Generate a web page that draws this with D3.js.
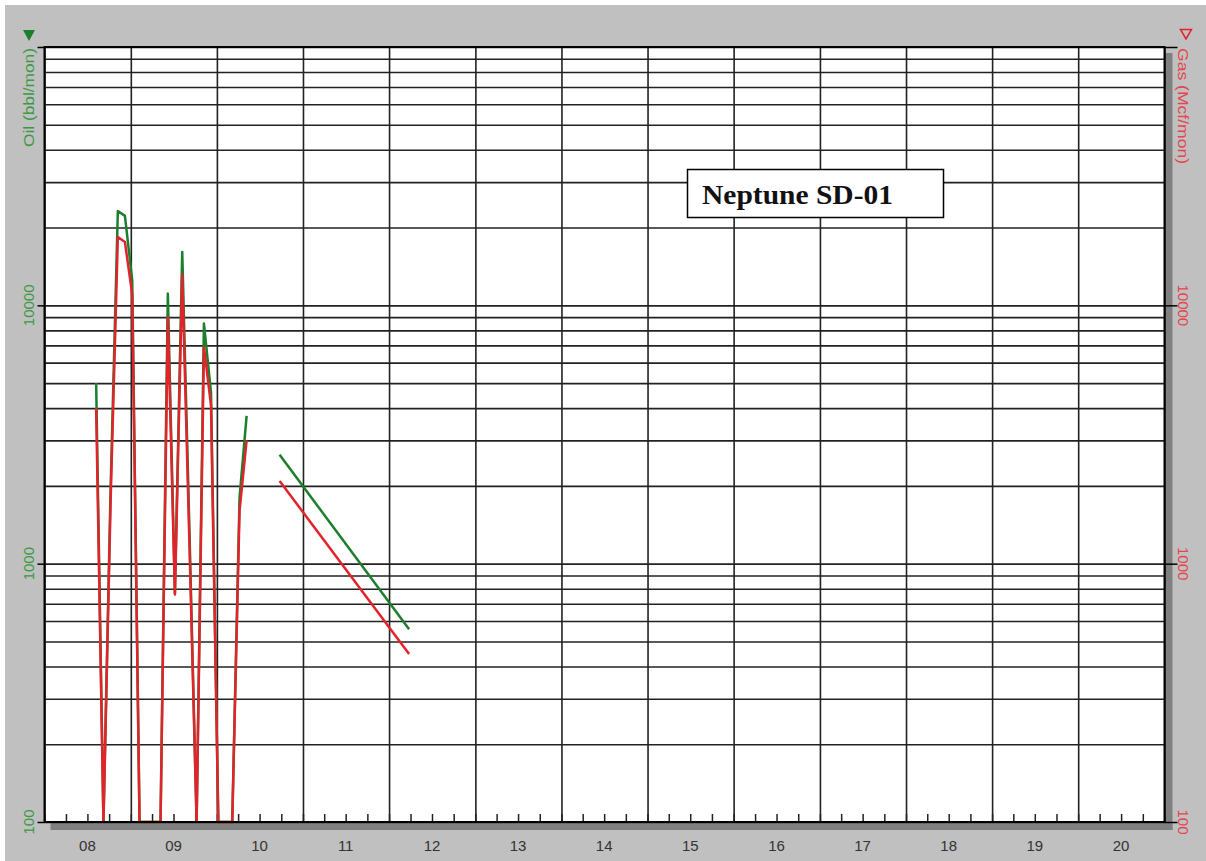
<!DOCTYPE html>
<html lang="en">
<head>
<meta charset="UTF-8" />
<title>Neptune SD-01</title>
<script src="https://d3js.org/d3.v7.min.js"></script>
<style>
  body { margin: 0; background: #fff; }
  svg { display: block; }
</style>
</head>
<body>
<svg width="1206" height="861"></svg>
<script>
// monthly production, 0 = no production (drawn on the 100 floor)
const months = [
  "2008-08", "2008-09", "2008-10", "2008-11", "2008-12", "2009-01", "2009-02",
  "2009-03", "2009-04", "2009-05", "2009-06", "2009-07", "2009-08", "2009-09",
  "2009-10", "2009-11", "2009-12", "2010-01", "2010-02", "2010-03", "2010-04",
  "2010-05"
];
const oil = [
  5000, 0, 1900, 23200, 22200, 12500, 0,
  0, 0, 0, 11100, 770, 16100, 1300,
  0, 8500, 4600, 0, 0, 0, 1800,
  3730
];
const gas = [
  4000, 0, 1700, 18400, 17600, 11000, 0,
  0, 0, 0, 9000, 760, 13150, 1150,
  0, 6900, 4100, 0, 0, 0, 1600,
  3000
];

// decline forecast
const forecastDates = ["2010-09-24", "2012-03-26"];
const oilForecast = [2640, 557];
const gasForecast = [2090, 447];

const yearLabels = ["08", "09", "10", "11", "12", "13", "14", "15", "16", "17", "18", "19", "20"];
const yLabelValues = [100, 1000, 10000];
const chartTitle = "Neptune SD-01";

const svg = d3.select("svg");
const plotLeft = 44.5, plotRight = 1164.5, plotTop = 47, plotBottom = 822;

const x = d3.scaleTime()
  .domain([new Date(2008, 0, 1), new Date(2021, 0, 1)])
  .range([plotLeft, plotRight]);
const y = d3.scaleLog()
  .domain([100, 100000])
  .range([plotBottom, plotTop]);

const parseMonth = d3.timeParse("%Y-%m");
const parseDay = d3.timeParse("%Y-%m-%d");
const monthDate = (m) => d3.timeDay.offset(parseMonth(m), 6);
const yv = (v) => y(Math.max(v, 100));

// background
svg.append("rect").attr("width", 1206).attr("height", 861).attr("fill", "#fff");
svg.append("rect").attr("x", 5).attr("y", 5).attr("width", 1201).attr("height", 856).attr("fill", "#c0c0c0");

// shadow
svg.append("rect").attr("x", plotRight).attr("y", plotTop + 6).attr("width", 8).attr("height", plotBottom - plotTop + 2).attr("fill", "#808080");
svg.append("rect").attr("x", plotLeft + 6).attr("y", plotBottom).attr("width", plotRight - plotLeft + 2).attr("height", 8).attr("fill", "#808080");

svg.append("rect")
  .attr("x", plotLeft).attr("y", plotTop)
  .attr("width", plotRight - plotLeft).attr("height", plotBottom - plotTop)
  .attr("fill", "#fff");

// horizontal grid
svg.append("g")
  .attr("transform", `translate(${plotLeft},0)`)
  .call(d3.axisLeft(y).tickValues(y.ticks()).tickSize(-(plotRight - plotLeft)).tickFormat(""))
  .call(g => g.select(".domain").remove())
  .call(g => g.selectAll("line").attr("stroke", "#222").attr("stroke-width", 1.6));

// vertical grid at year boundaries
svg.append("g")
  .attr("transform", `translate(0,${plotBottom})`)
  .call(d3.axisBottom(x).ticks(d3.timeYear.every(1)).tickSize(-(plotBottom - plotTop)).tickFormat(""))
  .call(g => g.select(".domain").remove())
  .call(g => g.selectAll("line").attr("stroke", "#222").attr("stroke-width", 1.6));

// quarter ticks
svg.append("g")
  .attr("transform", `translate(0,${plotBottom})`)
  .call(d3.axisBottom(x).ticks(d3.timeMonth.every(3)).tickSize(-8).tickFormat(""))
  .call(g => g.select(".domain").remove())
  .call(g => g.selectAll("line").attr("stroke", "#222").attr("stroke-width", 1.5));

// data lines
const line = d3.line()
  .x(d => x(d.date))
  .y(d => yv(d.value));

const oilData = months.map((m, i) => ({ date: monthDate(m), value: oil[i] }));
const gasData = months.map((m, i) => ({ date: monthDate(m), value: gas[i] }));
const oilFc = forecastDates.map((d, i) => ({ date: parseDay(d), value: oilForecast[i] }));
const gasFc = forecastDates.map((d, i) => ({ date: parseDay(d), value: gasForecast[i] }));

const green = "#1b7f2b", red = "#e3232b";

[[oilData, green], [oilFc, green], [gasData, red], [gasFc, red]].forEach(([data, color]) => {
  svg.append("path")
    .datum(data)
    .attr("d", line)
    .attr("fill", "none")
    .attr("stroke", color)
    .attr("stroke-width", 2.5)
    .attr("stroke-linejoin", "round");
});

// frame
svg.append("rect")
  .attr("x", plotLeft).attr("y", plotTop)
  .attr("width", plotRight - plotLeft).attr("height", plotBottom - plotTop)
  .attr("fill", "none").attr("stroke", "#000").attr("stroke-width", 2);

// decade ticks on both sides
const decades = [100, 1000, 10000, 100000];
svg.append("g")
  .attr("transform", `translate(${plotLeft},0)`)
  .call(d3.axisLeft(y).tickValues(decades).tickSize(7).tickFormat(""))
  .call(g => g.select(".domain").remove())
  .call(g => g.selectAll("line").attr("stroke", "#000").attr("stroke-width", 1.5));
svg.append("g")
  .attr("transform", `translate(${plotRight},0)`)
  .call(d3.axisRight(y).tickValues(decades).tickSize(13).tickFormat(""))
  .call(g => g.select(".domain").remove())
  .call(g => g.selectAll("line").attr("stroke", "#000").attr("stroke-width", 1.5));

// y labels
const font = "'Liberation Sans', Arial, sans-serif";
svg.append("g").selectAll("text")
  .data(yLabelValues)
  .join("text")
  .attr("transform", d => `translate(34,${y(d)}) rotate(-90)`)
  .attr("text-anchor", "middle")
  .attr("font-family", font)
  .attr("font-size", 15)
  .attr("fill", "#3c9a45")
  .text(d => d);
svg.append("g").selectAll("text")
  .data(yLabelValues)
  .join("text")
  .attr("transform", d => `translate(1178,${y(d)}) rotate(90)`)
  .attr("text-anchor", "middle")
  .attr("font-family", font)
  .attr("font-size", 15)
  .attr("fill", "#e5454d")
  .text(d => d);

// axis titles
svg.append("text")
  .attr("transform", `translate(34,48) rotate(-90)`)
  .attr("text-anchor", "end")
  .attr("font-family", font)
  .attr("font-size", 14)
  .attr("textLength", 99)
  .attr("lengthAdjust", "spacingAndGlyphs")
  .attr("fill", "#3c9a45")
  .text("Oil (bbl/mon)");
svg.append("text")
  .attr("transform", `translate(1178,48) rotate(90)`)
  .attr("text-anchor", "start")
  .attr("font-family", font)
  .attr("font-size", 14)
  .attr("textLength", 116)
  .attr("lengthAdjust", "spacingAndGlyphs")
  .attr("fill", "#e5454d")
  .text("Gas (Mcf/mon)");

// markers
svg.append("path")
  .attr("d", "M23,30 L35,30 L29,41 Z")
  .attr("fill", green);
svg.append("path")
  .attr("d", "M1180.5,29.5 L1191.5,29.5 L1186,39 Z")
  .attr("fill", "none")
  .attr("stroke", red)
  .attr("stroke-width", 1.5);

// x labels
svg.append("g").selectAll("text")
  .data(yearLabels)
  .join("text")
  .attr("x", (d, i) => x(new Date(2008 + i, 6, 1)))
  .attr("y", 851)
  .attr("text-anchor", "middle")
  .attr("font-family", font)
  .attr("font-size", 15)
  .attr("fill", "#333")
  .text(d => d);

// title box
svg.append("rect")
  .attr("x", 687.5).attr("y", 169.5)
  .attr("width", 256).attr("height", 48)
  .attr("fill", "#fff").attr("stroke", "#000").attr("stroke-width", 1.5);
svg.append("text")
  .attr("x", 702).attr("y", 204)
  .attr("font-family", "'Liberation Serif', 'Times New Roman', serif")
  .attr("font-weight", "bold")
  .attr("font-size", 28)
  .attr("textLength", 191)
  .attr("lengthAdjust", "spacingAndGlyphs")
  .attr("fill", "#111")
  .text(chartTitle);
</script>
</body>
</html>
